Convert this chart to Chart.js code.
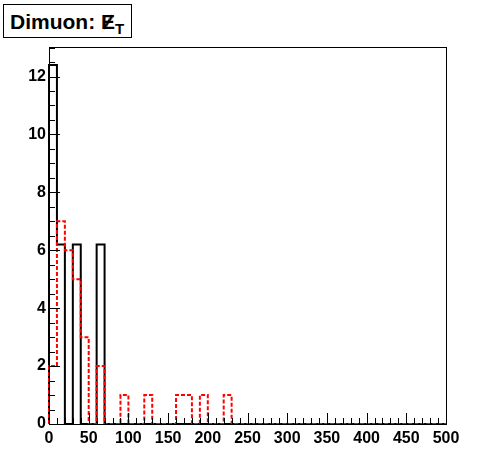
<!DOCTYPE html>
<html lang="en">
<head>
<meta charset="UTF-8">
<title>Dimuon MET</title>
<script src="https://cdn.jsdelivr.net/npm/chart.js"></script>
<style>
    body { margin: 0; background: #fff; }
    #wrap { position: relative; width: 496px; height: 472px; }
    #title {
        position: absolute; left: 3px; top: 4px; width: 129px; height: 34px;
        border: 1px solid #000; background: #fff; box-sizing: border-box;
        font: bold 21px "Liberation Sans", Arial, sans-serif; line-height: 33px;
        padding-left: 6px; white-space: nowrap;
    }
    #title .e { position: relative; display: inline-block; }
    #title .sl { position: absolute; left: 4px; top: 1px; font-size: 22px; transform: rotate(22deg); }
    #title sub { font-size: 15px; vertical-align: -5px; line-height: 0; }
</style>
</head>
<body>
<div id="wrap">
    <canvas id="c" width="496" height="472"></canvas>
    <div id="title">Dimuon: <span class="e">E<span class="sl">/</span></span><sub>T</sub></div>
</div>
<script>
// histogram: 50 bins of 10 GeV from 0 to 500
const binWidth = 10;
const xMin = 0, xMax = 500;
const yMax = 13.02;
const xTickLabels = [0, 50, 100, 150, 200, 250, 300, 350, 400, 450, 500];
const yTickLabels = [0, 2, 4, 6, 8, 10, 12];

const blackBins = [12.4, 6.2, 0, 6.2, 0, 0, 6.2, 0, 0, 0,
                   0, 0, 0, 0, 0, 0, 0, 0, 0, 0,
                   0, 0, 0, 0, 0, 0, 0, 0, 0, 0,
                   0, 0, 0, 0, 0, 0, 0, 0, 0, 0,
                   0, 0, 0, 0, 0, 0, 0, 0, 0, 0];
const redBins = [2, 7, 6, 5, 3, 0, 2, 0, 0, 1,
                 0, 0, 1, 0, 0, 0, 1, 1, 0, 1,
                 0, 0, 1, 0, 0, 0, 0, 0, 0, 0,
                 0, 0, 0, 0, 0, 0, 0, 0, 0, 0,
                 0, 0, 0, 0, 0, 0, 0, 0, 0, 0];

// outline of a histogram: points at the left edge of each bin
function outline(bins) {
    const pts = [{ x: xMin, y: 0 }];
    bins.forEach((v, i) => pts.push({ x: xMin + i * binWidth, y: v }));
    pts.push({ x: xMax, y: 0 });
    return pts;
}

// frame plus ROOT-style inward ticks
const framePlugin = {
    id: 'frame',
    afterDraw(chart) {
        const ctx = chart.ctx, a = chart.chartArea;
        const xs = chart.scales.x, ys = chart.scales.y;
        ctx.save();
        ctx.strokeStyle = '#000';
        ctx.lineWidth = 1;
        ctx.strokeRect(a.left + 0.5, a.top + 0.5, a.right - a.left, a.bottom - a.top);
        ctx.beginPath();
        for (let v = xMin; v <= xMax; v += 10) {
            const px = Math.round(xs.getPixelForValue(v)) + 0.5;
            const len = v % 50 === 0 ? 11 : 6;
            ctx.moveTo(px, a.bottom);
            ctx.lineTo(px, a.bottom - len);
        }
        for (let v = 0; v <= yMax; v += 0.5) {
            const py = Math.round(ys.getPixelForValue(v)) + 0.5;
            const len = v % 2 === 0 ? 11 : 6;
            ctx.moveTo(a.left, py);
            ctx.lineTo(a.left + len, py);
        }
        ctx.stroke();
        ctx.restore();
    }
};

new Chart(document.getElementById('c'), {
    type: 'line',
    data: {
        datasets: [
            { data: outline(redBins), borderColor: '#ff0000', borderWidth: 2, borderDash: [4, 2],
              stepped: 'before', pointRadius: 0, fill: false, clip: 3 },
            { data: outline(blackBins), borderColor: '#000000', borderWidth: 2,
              stepped: 'before', pointRadius: 0, fill: false, clip: 3 }
        ]
    },
    options: {
        responsive: false,
        animation: false,
        events: [],
        layout: { padding: { left: 0, right: 50, top: 47, bottom: 0 } },
        plugins: { legend: { display: false }, tooltip: { enabled: false } },
        scales: {
            x: {
                type: 'linear', min: xMin, max: xMax,
                border: { display: false },
                grid: { display: false, drawTicks: false },
                afterFit: s => { s.height = 48; },
                afterBuildTicks: s => { s.ticks = xTickLabels.map(v => ({ value: v })); },
                ticks: { color: '#000', padding: 5, maxRotation: 0,
                         font: { family: 'Liberation Sans', weight: 'bold', size: 16 } }
            },
            y: {
                min: 0, max: yMax,
                border: { display: false },
                grid: { display: false, drawTicks: false },
                afterFit: s => { s.width = 49; },
                afterBuildTicks: s => { s.ticks = yTickLabels.map(v => ({ value: v })); },
                ticks: { color: '#000', padding: 3,
                         font: { family: 'Liberation Sans', weight: 'bold', size: 16 } }
            }
        }
    },
    plugins: [framePlugin]
});
</script>
</body>
</html>
